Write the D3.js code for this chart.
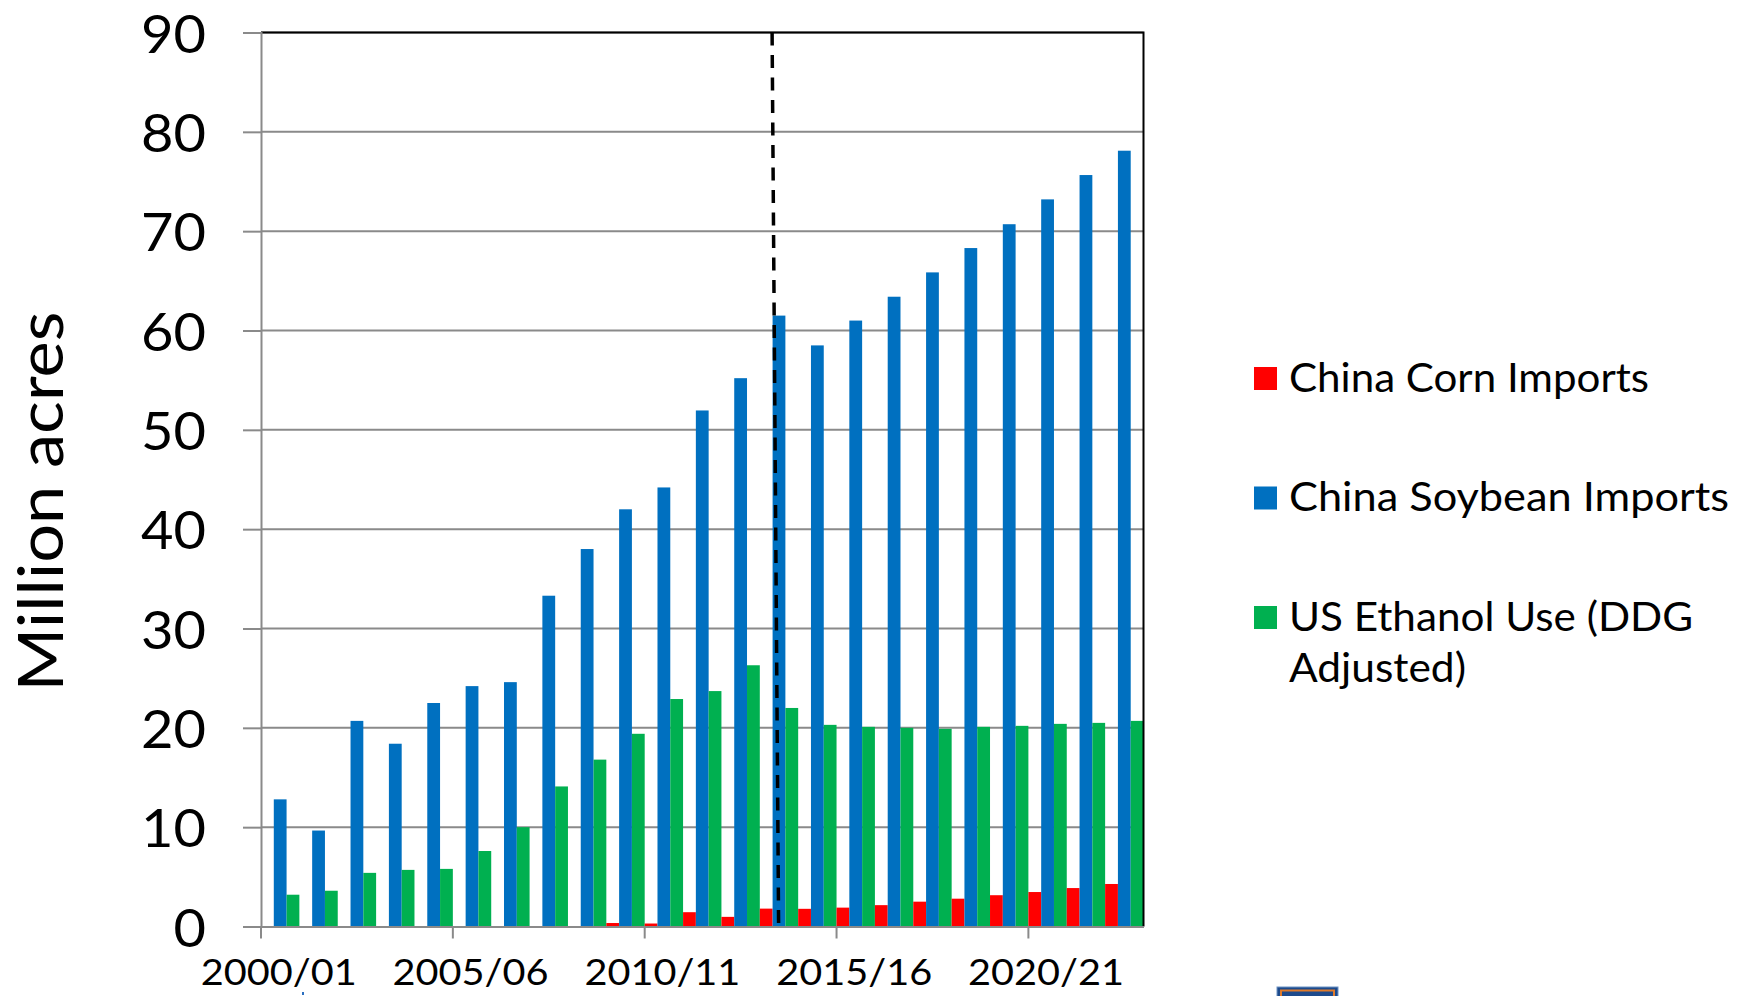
<!DOCTYPE html>
<html>
<head>
<meta charset="utf-8">
<script src="https://cdn.jsdelivr.net/npm/d3@7"></script>
<style>
  html, body { margin: 0; padding: 0; background: #fff; }
  svg { display: block; font-family: Lato, "Noto Sans", sans-serif; }
</style>
</head>
<body>
<svg id="chart" width="1746" height="996"></svg>
<script>
// Marketing years
const categories = [
  "2000/01", "2001/02", "2002/03", "2003/04", "2004/05", "2005/06",
  "2006/07", "2007/08", "2008/09", "2009/10", "2010/11", "2011/12",
  "2012/13", "2013/14", "2014/15", "2015/16", "2016/17", "2017/18",
  "2018/19", "2019/20", "2020/21", "2021/22", "2022/23"
];

// Million acres equivalent
const cornImports = [
  0, 0, 0, 0, 0, 0, 0, 0, 0, 0.35, 0.3, 1.44,
  0.97, 1.8, 1.78, 1.9, 2.15, 2.5, 2.8, 3.15, 3.47, 3.87, 4.28
];
const soybeanImports = [
  12.8, 9.66, 20.7, 18.4, 22.5, 24.2, 24.6, 33.3, 38.0, 42.0, 44.2, 51.95,
  55.2, 61.5, 58.5, 61.0, 63.4, 65.85, 68.3, 70.7, 73.2, 75.65, 78.1
];
const ethanolUse = [
  3.2, 3.6, 5.4, 5.7, 5.8, 7.6, 10.0, 14.1, 16.8, 19.4, 22.9, 23.7,
  26.3, 22.0, 20.3, 20.1, 20.0, 19.9, 20.1, 20.2, 20.4, 20.5, 20.7
];

const seriesKeys = ["corn", "soy", "ethanol"];
const seriesColors = ["#FF0000", "#0070C0", "#00B050"];
const legendLabels = [
  ["China Corn Imports"],
  ["China Soybean Imports"],
  ["US Ethanol Use (DDG", "Adjusted)"]
];

const yTicks = [0, 10, 20, 30, 40, 50, 60, 70, 80, 90];
const xLabelYears = ["2000/01", "2005/06", "2010/11", "2015/16", "2020/21"];
const yTitle = "Million acres";
const dividerYear = "2013/14";

// set widths for the legend lines (px)
const legendLineWidths = [[360], [440], [404, 177]];

const seriesValues = [cornImports, soybeanImports, ethanolUse];
const rows = categories.map((c, i) => ({
  cat: c,
  values: seriesKeys.map((k, j) => ({ key: k, value: seriesValues[j][i], color: seriesColors[j] }))
}));

const svg = d3.select("#chart");
const plot = { left: 261, right: 1143.5, top: 32.5, bottom: 926.5 };

const x = d3.scaleBand().domain(categories).range([plot.left, plot.right]).padding(0);
const xs = d3.scaleBand().domain(seriesKeys).range([0, x.bandwidth()]).padding(0);
const y = d3.scaleLinear().domain([0, 90]).range([plot.bottom, plot.top]);

const gridColor = "#8a8a8a";

// horizontal gridlines
svg.append("g")
  .selectAll("line")
  .data(yTicks.filter(t => t > 0))
  .join("line")
  .attr("x1", plot.left).attr("x2", plot.right)
  .attr("y1", d => y(d)).attr("y2", d => y(d))
  .attr("stroke", gridColor).attr("stroke-width", 2);

// bars
const groups = svg.append("g")
  .selectAll("g")
  .data(rows)
  .join("g")
  .attr("transform", d => `translate(${x(d.cat)},0)`);

groups.selectAll("rect")
  .data(d => d.values.filter(v => v.value > 0))
  .join("rect")
  .attr("x", d => xs(d.key))
  .attr("width", xs.bandwidth())
  .attr("y", d => y(d.value))
  .attr("height", d => y(0) - y(d.value))
  .attr("fill", d => d.color);

// top and right frame
svg.append("path")
  .attr("d", `M${plot.left},${y(90)}H${plot.right}V${y(0)}`)
  .attr("fill", "none").attr("stroke", "#000").attr("stroke-width", 2);

// y axis
const yAxis = svg.append("g")
  .attr("transform", `translate(${plot.left},0)`)
  .call(d3.axisLeft(y).tickValues(yTicks).tickSize(18).tickPadding(37).tickFormat(d3.format("d")));
yAxis.select(".domain").attr("stroke", gridColor).attr("stroke-width", 2);
yAxis.selectAll(".tick line").attr("stroke", gridColor).attr("stroke-width", 2);
yAxis.selectAll(".tick text")
  .attr("font-family", "Lato, sans-serif")
  .attr("font-size", 52)
  .attr("fill", "#000")
  .attr("dy", 19.5)
  .attr("textLength", d => String(d).length * 32.5)
  .attr("lengthAdjust", "spacingAndGlyphs");

// x axis: tick marks on category boundaries, labels centred on categories
const xAxis = svg.append("g")
  .attr("transform", `translate(0,${plot.bottom})`)
  .call(d3.axisBottom(x).tickValues(xLabelYears).tickSize(0).tickPadding(0));
xAxis.select(".domain").attr("stroke", gridColor).attr("stroke-width", 2);
xAxis.selectAll(".tick line").remove();
xAxis.selectAll(".tick text")
  .attr("font-family", "Lato, sans-serif")
  .attr("font-size", 36)
  .attr("fill", "#000")
  .attr("dy", 0)
  .attr("y", 58.5)
  .attr("x", -1.5)
  .attr("textLength", 156)
  .attr("lengthAdjust", "spacingAndGlyphs");
xAxis.selectAll(".tick")
  .append("line")
  .attr("x1", -x.bandwidth() / 2).attr("x2", -x.bandwidth() / 2)
  .attr("y1", 0).attr("y2", 12)
  .attr("stroke", gridColor).attr("stroke-width", 2);

// divider marking the 2013/14 season
const dx = x(dividerYear) + xs("soy");
svg.append("line")
  .attr("x1", dx - 0.5).attr("y1", y(90))
  .attr("x2", dx + xs.bandwidth() * 0.47).attr("y2", y(0))
  .attr("stroke", "#000").attr("stroke-width", 3.5)
  .attr("stroke-dasharray", "13 9.5");

// y title
svg.append("text")
  .attr("transform", "translate(63,501.5) rotate(-90)")
  .attr("text-anchor", "middle")
  .attr("font-family", "Lato, sans-serif")
  .attr("font-size", 62)
  .attr("fill", "#000")
  .attr("textLength", 380)
  .attr("lengthAdjust", "spacingAndGlyphs")
  .text(yTitle);

// legend
const legend = svg.append("g").attr("transform", "translate(1254,367)");
const item = legend.selectAll("g")
  .data(legendLabels.map((l, i) => ({ lines: l, widths: legendLineWidths[i], color: seriesColors[i] })))
  .join("g")
  .attr("transform", (d, i) => `translate(0,${i * 119.5})`);
item.append("rect")
  .attr("width", 23).attr("height", 23)
  .attr("fill", d => d.color);
item.selectAll("text")
  .data(d => d.lines.map((t, i) => ({ t, w: d.widths[i] })))
  .join("text")
  .attr("x", 35)
  .attr("y", (d, i) => 24.5 + i * 51.7)
  .attr("font-family", "Lato, sans-serif")
  .attr("font-size", 41)
  .attr("fill", "#000")
  .attr("textLength", d => d.w)
  .attr("lengthAdjust", "spacingAndGlyphs")
  .text(d => d.t);

// emblem peeking in at the bottom edge
const emblem = svg.append("g").attr("transform", "translate(1277,987)");
emblem.append("rect").attr("width", 61).attr("height", 20).attr("fill", "#1d4a8c").attr("stroke", "#6f93c4").attr("stroke-width", 1);
emblem.append("rect").attr("x", 4).attr("y", 3.5).attr("width", 53).attr("height", 20)
  .attr("fill", "#1d4a8c").attr("stroke", "#e07a2a").attr("stroke-width", 2);
svg.append("rect").attr("x", 302).attr("y", 992).attr("width", 2).attr("height", 3).attr("fill", "#2b6fc0");
</script>
</body>
</html>
